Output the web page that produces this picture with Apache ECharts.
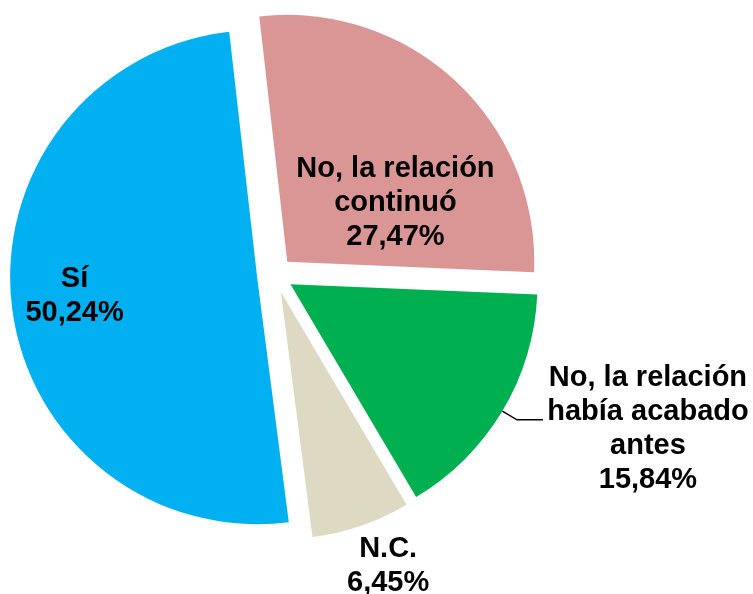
<!DOCTYPE html>
<html>
<head>
<meta charset="utf-8">
<script src="https://cdn.jsdelivr.net/npm/echarts@6/dist/echarts.min.js"></script>
<style>
  html, body { margin: 0; padding: 0; background: #fff; }
  #chart { width: 753px; height: 594px; }
</style>
</head>
<body>
<div id="chart"></div>
<script>
// datos (sentido horario desde arriba)
const categories = ['No, la relación\ncontinuó', 'No, la relación\nhabía acabado\nantes', 'N.C.', 'Sí'];
const values = [27.47, 15.84, 6.45, 50.24];
const colors = ['#D99694', '#00B050', '#DDD9C3', '#00B0F0'];

// ajustes de etiqueta por porción
const labelOpts = [
  { position: 'inside', padding: [68, 0, 0, 44] },
  { position: 'outside', width: 200, padding: [18, 0, 0, 0] },
  { position: 'outside', width: 18, padding: [6, 0, 0, 0] },
  { position: 'inside', padding: [7, 114, 0, 0] }
];
const lineOpts = [
  { show: false },
  { show: true, length: 17, length2: 26 },
  { show: false, length: 40, length2: 0 },
  { show: false }
];

function pct(v) {
  return v.toFixed(2).replace('.', ',') + '%';
}

const chart = echarts.init(document.getElementById('chart'));

const seriesData = values.map((v, i) => ({
  name: categories[i],
  value: v,
  selected: true,
  itemStyle: { color: colors[i] },
  label: labelOpts[i],
  labelLine: lineOpts[i]
}));

chart.setOption({
  backgroundColor: '#fff',
  animation: false,
  series: [{
    type: 'pie',
    center: [275, 275],
    radius: 247,
    startAngle: 96.5,
    clockwise: true,
    selectedMode: 'multiple',
    selectedOffset: 18,
    avoidLabelOverlap: false,
    emphasis: { disabled: true },
    label: {
      position: 'outside',
      overflow: 'none',
      distanceToLabelLine: 5,
      color: '#000',
      textBorderWidth: 0,
      formatter: function (p) {
        return p.name.split('\n').concat(pct(p.value)).map(s => '{a|' + s + '}').join('\n');
      },
      rich: {
        a: {
          fontFamily: 'Liberation Sans, Arial, sans-serif',
          fontWeight: 'bold',
          fontSize: 29,
          lineHeight: 34,
          color: '#000',
          align: 'center'
        }
      }
    },
    labelLine: {
      lineStyle: { color: '#000', width: 1.5 }
    },
    data: seriesData
  }]
});
</script>
</body>
</html>
